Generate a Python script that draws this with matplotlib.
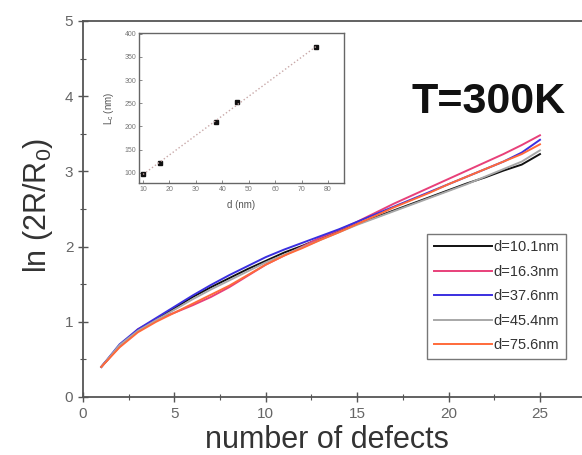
import matplotlib
matplotlib.use("Agg")
import matplotlib.pyplot as plt
import numpy as np

plt.rcParams['font.family'] = ['Liberation Sans', 'DejaVu Sans']
plt.rcParams['mathtext.fontset'] = 'custom'
plt.rcParams['mathtext.rm'] = 'Liberation Sans'
plt.rcParams['mathtext.it'] = 'Liberation Sans:italic'
plt.rcParams['mathtext.default'] = 'regular'

defects = list(range(1, 26))
labels = ["d=10.1nm", "d=16.3nm", "d=37.6nm", "d=45.4nm", "d=75.6nm"]
colors = ["#111111", "#e8407a", "#3a2fe0", "#a8a8a8", "#ff6a3a"]

s_101 = [0.40, 0.68, 0.88, 1.03, 1.18, 1.33, 1.46, 1.58, 1.70, 1.81, 1.92, 2.01, 2.11,
         2.20, 2.30, 2.39, 2.48, 2.57, 2.66, 2.75, 2.84, 2.92, 3.01, 3.09, 3.23]
s_163 = [0.40, 0.67, 0.90, 1.03, 1.12, 1.22, 1.33, 1.46, 1.61, 1.76, 1.88, 2.00, 2.12,
         2.22, 2.33, 2.45, 2.57, 2.68, 2.79, 2.90, 3.01, 3.12, 3.23, 3.35, 3.48]
s_376 = [0.40, 0.70, 0.90, 1.05, 1.20, 1.35, 1.49, 1.62, 1.74, 1.86, 1.96, 2.05, 2.14,
         2.23, 2.33, 2.43, 2.53, 2.63, 2.73, 2.83, 2.93, 3.03, 3.13, 3.25, 3.42]
s_454 = [0.40, 0.69, 0.88, 1.02, 1.16, 1.30, 1.43, 1.55, 1.67, 1.79, 1.89, 1.99, 2.09,
         2.19, 2.29, 2.38, 2.47, 2.56, 2.65, 2.74, 2.83, 2.93, 3.03, 3.13, 3.28]
s_756 = [0.40, 0.66, 0.86, 1.00, 1.12, 1.24, 1.36, 1.48, 1.62, 1.76, 1.88, 1.98, 2.09,
         2.19, 2.30, 2.41, 2.52, 2.62, 2.72, 2.83, 2.93, 3.03, 3.13, 3.23, 3.36]
series = [s_101, s_163, s_376, s_454, s_756]

# inset data
inset_d = [10.1, 16.3, 37.6, 45.4, 75.6]
inset_lc = [98, 120, 210, 252, 371]

fig = plt.figure(figsize=(5.82, 4.55), dpi=100)
ax = fig.add_axes([0.1426, 0.1275, 0.87, 0.8264])

for ys, c, lab in zip(series, colors, labels):
    ax.plot(defects, ys, color=c, lw=1.4, label=lab)

ax.set_xlim(0, 27.7)
ax.set_ylim(0, 5)
ax.set_xticks([0, 5, 10, 15, 20, 25])
ax.set_xticks([2.5, 7.5, 12.5, 17.5, 22.5], minor=True)
ax.set_yticks([0, 1, 2, 3, 4, 5])
ax.set_yticks([0.5, 1.5, 2.5, 3.5, 4.5], minor=True)
ax.tick_params(which='major', direction='inout', length=7, width=1.0,
               labelsize=11, colors='#555555', labelcolor='#666666')
ax.tick_params(which='minor', direction='inout', length=4, width=0.8, colors='#555555')
for sp in ax.spines.values():
    sp.set_color('#555555')
    sp.set_linewidth(1.3)
ax.set_xlabel("number of defects", fontsize=22, color='#333333')
ax.xaxis.set_label_coords(0.482, -0.074)
ax.set_ylabel("ln (2R/R$_0$)", fontsize=22, color='#333333')
ax.yaxis.set_label_coords(-0.056, 0.51)

ax.text(0.80, 0.785, "T=300K", transform=ax.transAxes, fontsize=31,
        fontweight='bold', ha='center', va='center', color='#111111')

leg = ax.legend(loc='lower right', bbox_to_anchor=(0.968, 0.082), fontsize=10.5,
                handlelength=4.0, handletextpad=0.1, borderpad=0.45, labelspacing=0.72,
                fancybox=False, frameon=True, edgecolor='#555555')
leg.get_frame().set_linewidth(1.0)
for t in leg.get_texts():
    t.set_color('#333333')

# inset
ins = fig.add_axes([0.239, 0.598, 0.352, 0.33])
ins.plot(inset_d, inset_lc, 's', color='#111111', ms=3.5)
fit = np.polyfit(inset_d, inset_lc, 1)
xx = np.array([10, 76])
ins.plot(xx, np.polyval(fit, xx), ':', color='#c8a8a8', lw=1.0)
ins.set_xlim(8.5, 86)
ins.set_ylim(78, 402)
ins.set_xticks([10, 20, 30, 40, 50, 60, 70, 80])
ins.set_yticks([100, 150, 200, 250, 300, 350, 400])
ins.tick_params(direction='in', length=2, width=0.6, labelsize=5, colors='#777777',
                labelcolor='#777777', pad=2)
for sp in ins.spines.values():
    sp.set_color('#666666')
    sp.set_linewidth(1.0)
ins.set_xlabel("d (nm)", fontsize=7, color='#555555', labelpad=5)
ins.set_ylabel("L$_c$ (nm)", fontsize=7, color='#555555', labelpad=6)

fig.savefig("out.png", dpi=100)
